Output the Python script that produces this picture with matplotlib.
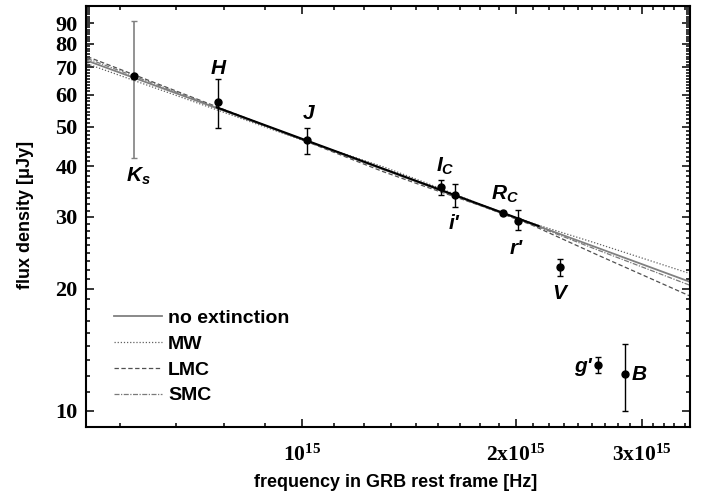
import numpy as np
import matplotlib
matplotlib.use('Agg')
import matplotlib.pyplot as plt
from matplotlib.ticker import FixedLocator, FixedFormatter, NullFormatter

plt.rcParams['font.family'] = ['Liberation Sans', 'DejaVu Sans']
plt.rcParams['mathtext.fontset'] = 'custom'
plt.rcParams['mathtext.rm'] = 'Liberation Sans:bold:italic'
plt.rcParams['mathtext.it'] = 'Liberation Sans:bold:italic'
plt.rcParams['mathtext.bf'] = 'Liberation Serif:bold'

# photometry, frequency in 1e15 Hz, flux density in microJy
bands = ['$K_s$', 'H', 'J', '$I_C$', "i'", '$R_C$', "r'", 'V', "g'", 'B']
nu = [0.581, 0.763, 1.016, 1.567, 1.641, 1.918, 2.009, 2.300, 2.606, 2.846]
flux = [66.7, 57.5, 46.4, 35.6, 34.0, 30.7, 29.3, 22.6, 12.95, 12.33]
flux_lo = [42.0, 49.7, 42.9, 33.9, 31.7, 30.3, 27.9, 21.5, 12.38, 10.0]
flux_hi = [90.9, 65.4, 49.7, 37.0, 36.2, 31.1, 31.2, 23.6, 13.55, 14.59]

# model fits
nu_model = [0.5, 1.0, 1.3, 1.5, 1.8, 2.1, 2.6, 3.5]
f_noext = [72.7, 46.6, 39.3, 35.9, 31.9, 28.9, 25.2, 20.8]
f_mw = [71.4, 46.4, 39.9, 36.3, 32.0, 29.0, 25.8, 21.8]
f_lmc = [74.4, 46.5, 38.8, 35.5, 31.8, 28.7, 24.2, 19.2]
f_smc = [73.6, 46.6, 39.3, 35.8, 31.8, 28.8, 24.9, 20.4]
nu_fit = [0.76, 2.15]
f_fit = [55.8, 28.5]

# label offsets in points (dx, dy)
label_off = [(3.4, -72), (0.4, 24), (1.2, 19), (2.9, 14.4), (-0.9, -20.4),
             (0.9, 13.5), (-0.9, -19.7), (0, -18.9), (-11, -1), (10, -0.7)]

scale = 1e15
nu = np.array(nu) * scale
flux = np.array(flux)
yerr = [flux - np.array(flux_lo), np.array(flux_hi) - flux]
nu_m = np.array(nu_model) * scale

fig = plt.figure(figsize=(7.08, 4.99), dpi=100)
ax = fig.add_axes([86 / 708, 1 - 427 / 499, 604 / 708, 421 / 499])

ax.plot(nu_m, f_noext, color='#808080', lw=1.3, ls='-', label='no extinction')
ax.plot(nu_m, f_mw, color='#606060', lw=0.9, ls=(0, (1, 1.5)), label='MW')
ax.plot(nu_m, f_lmc, color='#505050', lw=0.9, ls=(0, (3.5, 2)), label='LMC')
ax.plot(nu_m, f_smc, color='#7a7a7a', lw=0.9, ls=(0, (4, 1.2, 1, 1.2)), label='SMC')
ax.plot(np.array(nu_fit) * scale, f_fit, color='black', lw=1.5)

ax.errorbar(nu[:1], flux[:1], yerr=[yerr[0][:1], yerr[1][:1]], fmt='o', color='black',
            ecolor='#808080', ms=5, capsize=2.5, elinewidth=1.2, capthick=1, zorder=5)
ax.errorbar(nu[1:], flux[1:], yerr=[yerr[0][1:], yerr[1][1:]], fmt='o', color='black',
            ecolor='black', ms=5, capsize=2.5, elinewidth=1, capthick=1, zorder=5)

for b, x, y, off in zip(bands, nu, flux, label_off):
    ax.annotate(b, (x, y), xytext=off, textcoords='offset points', ha='center', va='center',
                fontsize=15, fontweight='bold', fontstyle='italic')

ax.set_xscale('log')
ax.set_yscale('log')
ax.set_xlim(0.498e15, 3.506e15)
ax.set_ylim(9.133, 99.1)

xmaj = [1e15, 2e15, 3e15]
xmin = [scale * (n + k / 9) for n in range(0, 4) for k in range(1, 9)]
ax.xaxis.set_major_locator(FixedLocator(xmaj))
ax.xaxis.set_major_formatter(FixedFormatter([r'$\mathbf{10^{15}}$', r'$\mathbf{2x10^{15}}$',
                                             r'$\mathbf{3x10^{15}}$']))
ax.xaxis.set_minor_locator(FixedLocator(xmin))
ax.xaxis.set_minor_formatter(NullFormatter())

ymaj = [10, 20, 30, 40, 50, 60, 70, 80, 90]
ymin = [10 * (n + k / 9) for n in range(1, 10) for k in range(1, 9)]
ax.yaxis.set_major_locator(FixedLocator(ymaj))
ax.yaxis.set_major_formatter(FixedFormatter([str(v) for v in ymaj]))
ax.yaxis.set_minor_locator(FixedLocator(ymin))
ax.yaxis.set_minor_formatter(NullFormatter())

ax.tick_params(which='both', direction='in', top=True, right=True, width=1.1)
ax.tick_params(which='major', length=6)
ax.tick_params(which='minor', length=3.2)
ax.tick_params(axis='x', which='major', pad=13, labelsize=15.5)
ax.tick_params(axis='y', which='major', pad=6, labelsize=16)
for lab in ax.get_yticklabels():
    lab.set_fontfamily('Liberation Serif')
    lab.set_fontweight('bold')
for sp in ax.spines.values():
    sp.set_linewidth(1.5)

ax.set_ylabel('flux density [\u03bcJy]', fontsize=13, fontweight='bold')
ax.yaxis.set_label_coords(-0.086, 0.504)
ax.set_xlabel('frequency in GRB rest frame [Hz]', fontsize=13, fontweight='bold')
ax.xaxis.set_label_coords(0.512, -0.112)

ax.legend(loc='upper left', bbox_to_anchor=(0.046, 0.279), frameon=False, borderpad=0,
          borderaxespad=0, handlelength=2.5, handletextpad=0.3, labelspacing=0.42,
          prop={'weight': 'bold', 'size': 14})

fig.savefig('out.png', dpi=100)
